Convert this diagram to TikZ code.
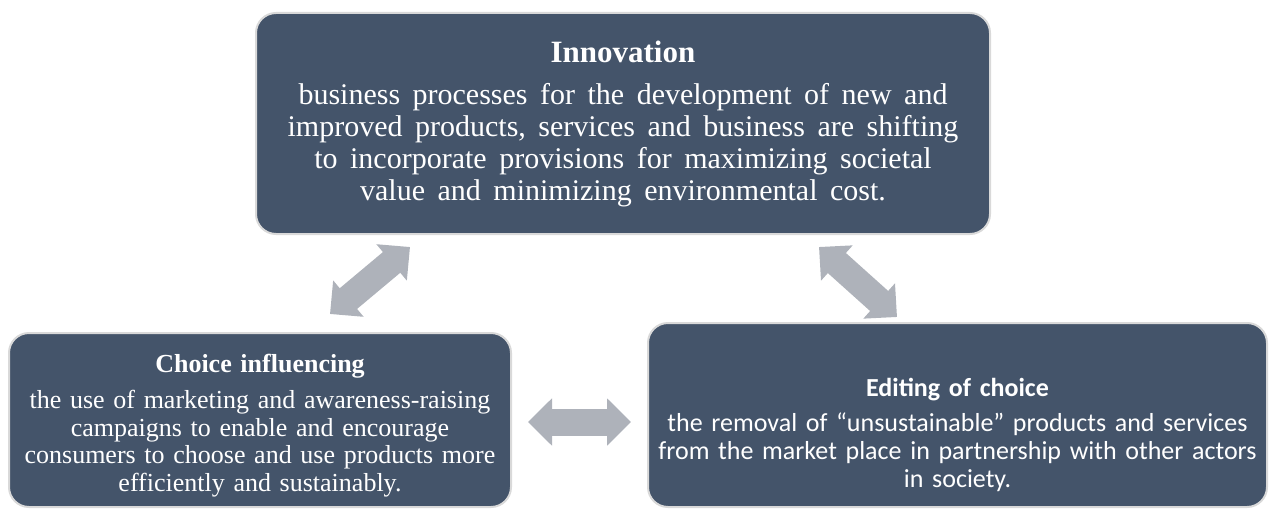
\documentclass[tikz,border=0pt]{standalone}
\usepackage{fontspec}
\setmainfont{Liberation Serif}
\newfontfamily\calibrifont{Carlito}
\usetikzlibrary{arrows.meta}
\definecolor{slate}{HTML}{44546A}
\definecolor{rim}{HTML}{D9D9D9}
\definecolor{linkgray}{HTML}{AEB2BA}

\begin{document}
\begin{tikzpicture}[x=1pt, y=-1pt,
  pillar/.style={draw=rim, line width=2pt, fill=slate, rounded corners=20pt,
                 text=white, align=center, inner sep=4pt},
  swap/.style={{Triangle[length=24pt,width=46pt]}-{Triangle[length=24pt,width=46pt]},
               line width=27pt, draw=linkgray},
  ]
  \useasboundingbox (0,0) rectangle (1269,511);

  \node[pillar, minimum width=734pt, minimum height=221pt, text width=720pt,
        font=\fontsize{30}{32}\selectfont] (inno) at (623,123.5)
    {\spaceskip=12.5pt\relax
     {\fontsize{31}{32}\selectfont\textbf{Innovation}}\\[10pt]
     business processes for the development of new and\\
     improved products, services and business are shifting\\
     to incorporate provisions for maximizing societal\\
     value and minimizing environmental cost.};

  \node[pillar, minimum width=502pt, minimum height=174pt, text width=490pt,
        font=\fontsize{26}{27.5}\selectfont] (choice) at (260,420)
    {\rule{0pt}{30pt}\textbf{Choice influencing}\\[8.5pt]
     the use of marketing and awareness-raising\\
     campaigns to enable and encourage\\
     consumers to choose and use products more\\
     efficiently and sustainably.};

  \node[pillar, minimum width=619pt, minimum height=184pt, text width=610pt,
        font=\calibrifont\fontsize{26}{28}\selectfont] (edit) at (957.5,415)
    {\rule{0pt}{59pt}\textbf{Editing of choice}\\[7pt]
     the removal of “unsustainable” products and services\\
     from the market place in partnership with other actors\\
     in society.};

  % two-way links between the three levers
  \coordinate (h1) at ([xshift=16pt,yshift=-2pt]choice.east);
  \draw[swap] ([xshift=155pt,yshift=-12pt]inno.south west) -- ([xshift=322pt,yshift=18pt]choice.north west);
  \draw[swap] ([xshift=-172pt,yshift=-12pt]inno.south east) -- ([xshift=250pt,yshift=5pt]edit.north west);
  \draw[swap, shorten >=16pt] (h1) -- (h1 -| edit.west);
\end{tikzpicture}
\end{document}
